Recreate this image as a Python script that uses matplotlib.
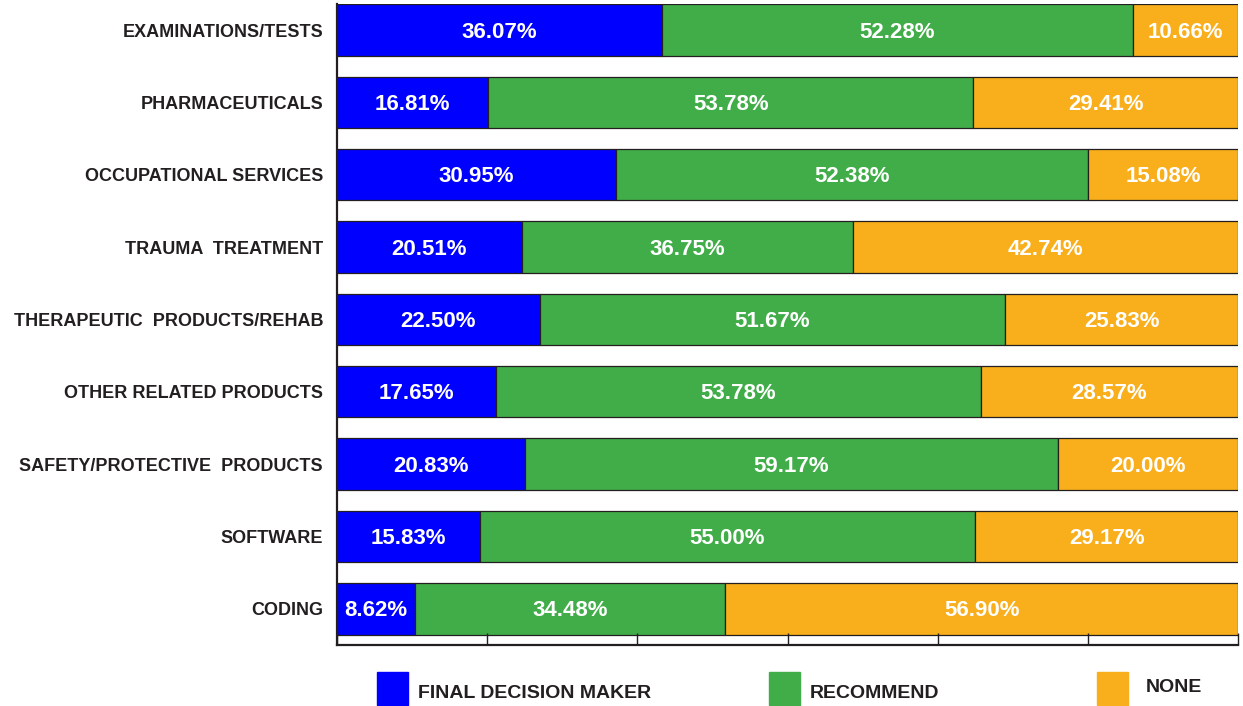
import numpy as np
import matplotlib.pyplot as plt
from matplotlib.patches import Rectangle

plt.rcParams['font.family'] = ['Liberation Sans', 'DejaVu Sans']

# Dados (de cima para baixo)
categories = [
    "EXAMINATIONS/TESTS",
    "PHARMACEUTICALS",
    "OCCUPATIONAL SERVICES",
    "TRAUMA  TREATMENT",
    "THERAPEUTIC  PRODUCTS/REHAB",
    "OTHER RELATED PRODUCTS",
    "SAFETY/PROTECTIVE  PRODUCTS",
    "SOFTWARE",
    "CODING",
]
final_decision = [36.07, 16.81, 30.95, 20.51, 22.50, 17.65, 20.83, 15.83, 8.62]
recommend = [52.28, 53.78, 52.38, 36.75, 51.67, 53.78, 59.17, 55.00, 34.48]
none = [10.66, 29.41, 15.08, 42.74, 25.83, 28.57, 20.00, 29.17, 56.90]

series_names = ["FINAL DECISION MAKER", "RECOMMEND", "NONE"]
colors = ["#0000ff", "#41ad49", "#f9ae1b"]
text_color = "#231f20"

fd = np.array(final_decision)
rc = np.array(recommend)
# barra 100%: o segmento "NONE" preenche até o fim
nn_width = 100 - fd - rc

y = np.arange(len(categories))[::-1]

fig = plt.figure(figsize=(12.43, 7.06), dpi=100)
ax = fig.add_axes([337 / 1243, 61 / 706, 901 / 1243, 641 / 706])

lefts = [np.zeros(len(fd)), fd, fd + rc]
widths = [fd, rc, nn_width]
labels = [final_decision, recommend, none]
for left, width, lab, color in zip(lefts, widths, labels, colors):
    ax.barh(y, width, left=left, height=0.71, color=color,
            edgecolor=text_color, linewidth=0.9)
    for yi, l, w, v in zip(y, left, width, lab):
        ax.text(l + w / 2, yi - 0.03, f"{v:.2f}%", ha="center", va="center",
                color="white", fontsize=16, fontweight="bold")

ax.set_xlim(0, 100)
ax.set_ylim(-0.5, 8.36)
ax.set_yticks(y)
ax.set_yticklabels(categories, fontsize=13, fontweight="bold", color=text_color)
ax.tick_params(axis="y", length=0, pad=10)
ax.set_xticks(np.linspace(0, 100, 7))
ax.set_xticklabels([])
ax.tick_params(axis="x", direction="in", length=9, width=1, color=text_color)

for side in ["top", "right"]:
    ax.spines[side].set_visible(False)
for side in ["left", "bottom"]:
    ax.spines[side].set_color(text_color)
    ax.spines[side].set_linewidth(1.6)

# Legenda manual
leg_box_x = [377, 769, 1097]
leg_text_x = [418, 810, 1146]
leg_text_y = [693, 693, 688]
for bx, tx, ty, name, color in zip(leg_box_x, leg_text_x, leg_text_y,
                                   series_names, colors):
    fig.patches.append(Rectangle((bx / 1243, 1 - 705 / 706), 31 / 1243, 33 / 706,
                                 transform=fig.transFigure, color=color))
    fig.text(tx / 1243, 1 - ty / 706, name, ha="left", va="center",
             fontsize=14, fontweight="bold", color=text_color)

fig.savefig("out.png", dpi=100)
